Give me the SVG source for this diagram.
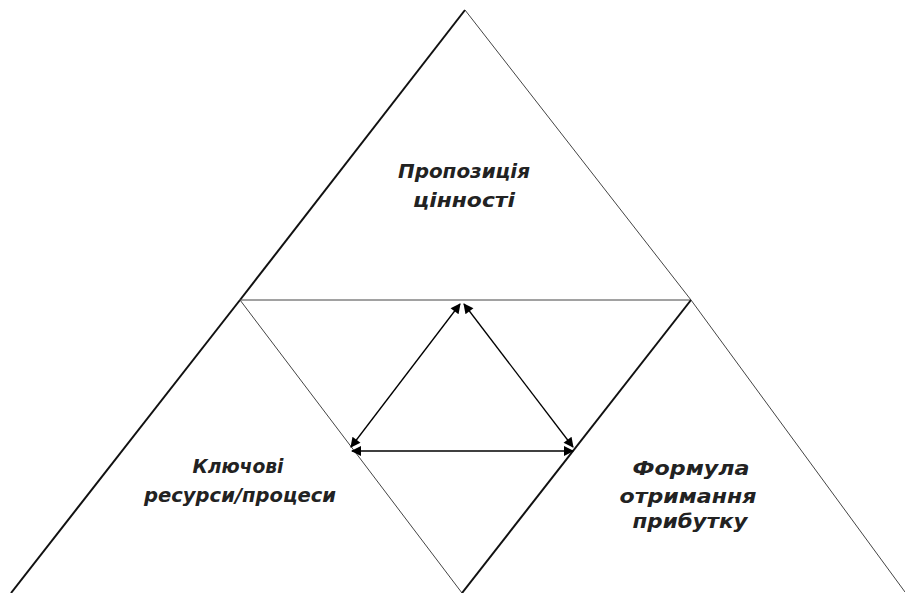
<svg xmlns="http://www.w3.org/2000/svg" width="905" height="593" viewBox="0 0 905 593">
<defs>
<marker id="ah" viewBox="0 0 10 10" refX="9" refY="5" markerWidth="12" markerHeight="10" markerUnits="userSpaceOnUse" orient="auto-start-reverse">
<path d="M0,0 L10,5 L0,10 Z" fill="#000"/>
</marker>
<style>
.thin{stroke:#444;stroke-width:1;fill:none}
.thick{stroke:#111;stroke-width:2;fill:none}
.arr{stroke:#000;stroke-width:1.3;fill:none;marker-start:url(#ah);marker-end:url(#ah)}
.lbl{font-family:"DejaVu Sans",sans-serif;font-style:oblique;font-weight:bold;font-size:19px;fill:#222;text-anchor:middle}
</style>
</defs>
<rect width="905" height="593" fill="#fff"/>
<g id="top-triangle">
<line class="thick" x1="465" y1="10" x2="240" y2="300"/>
<line class="thin" x1="465" y1="10" x2="691" y2="300"/>
<line class="thin" x1="240" y1="300" x2="691" y2="300"/>
<text class="lbl" x="464" y="178" textLength="132" lengthAdjust="spacingAndGlyphs">Пропозиція</text>
<text class="lbl" x="464" y="207" textLength="102" lengthAdjust="spacingAndGlyphs">цінності</text>
</g>
<g id="left-triangle">
<line class="thick" x1="240" y1="300" x2="11" y2="593"/>
<line class="thin" x1="240" y1="300" x2="462" y2="593"/>
<text class="lbl" x="238" y="473" textLength="91" lengthAdjust="spacingAndGlyphs">Ключові</text>
<text class="lbl" x="240" y="502" textLength="192" lengthAdjust="spacingAndGlyphs">ресурси/процеси</text>
</g>
<g id="right-triangle">
<line class="thick" x1="691" y1="300" x2="462" y2="593"/>
<line class="thin" x1="691" y1="300" x2="905" y2="592"/>
<text class="lbl" x="691" y="475" textLength="117" lengthAdjust="spacingAndGlyphs">Формула</text>
<text class="lbl" x="688" y="503" textLength="137" lengthAdjust="spacingAndGlyphs">отримання</text>
<text class="lbl" x="690" y="528" textLength="115" lengthAdjust="spacingAndGlyphs">прибутку</text>
</g>
<g id="connectors">
<line class="arr" x1="460" y1="304" x2="351" y2="447"/>
<line class="arr" x1="464" y1="304" x2="573" y2="447"/>
<line class="arr" x1="352" y1="451" x2="573" y2="451"/>
</g>
</svg>
